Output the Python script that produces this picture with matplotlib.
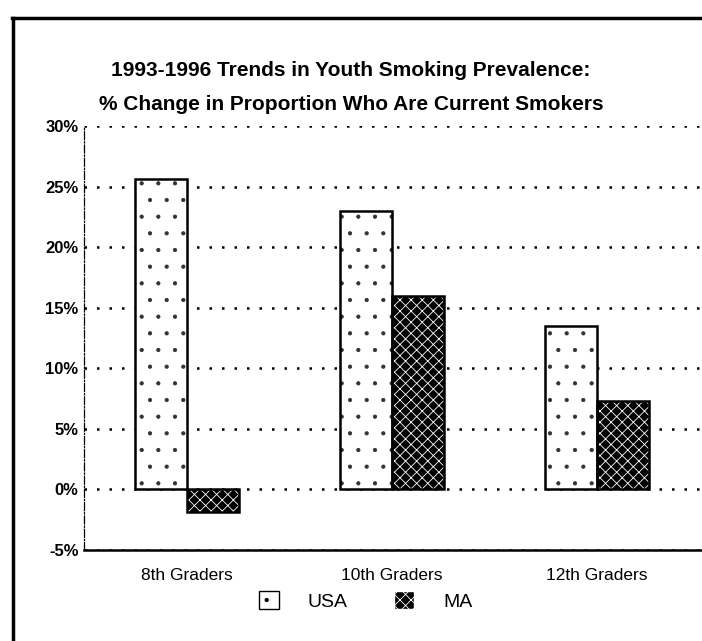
import matplotlib
matplotlib.use("Agg")
import matplotlib.pyplot as plt
from matplotlib.patches import Patch
from matplotlib.lines import Line2D
import numpy as np

plt.rcParams['font.family'] = ['Liberation Sans', 'DejaVu Sans']
plt.rcParams['hatch.linewidth'] = 0.6

grades = ["8th Graders", "10th Graders", "12th Graders"]
usa = [25.6, 23.0, 13.5]
ma = [-1.9, 16.0, 7.3]
yticks = [-5, 0, 5, 10, 15, 20, 25, 30]
ytick_labels = ["-5%", "0%", "5%", "10%", "15%", "20%", "25%", "30%"]
title_lines = ["1993-1996 Trends in Youth Smoking Prevalence:",
               "% Change in Proportion Who Are Current Smokers"]

fig = plt.figure(figsize=(7.02, 6.41), dpi=100)
ax = fig.add_axes([0.1197, 0.142, 0.88, 0.6614])

x = np.arange(len(grades))
w = 0.254

# USA: white with sparse dots, MA: black with fine white scratches
ax.bar(x - w / 2, usa, w, color="white", edgecolor="#333333", hatch=".", linewidth=0, zorder=2)
ax.bar(x - w / 2, usa, w, color="none", edgecolor="black", linewidth=1.8, zorder=3)
ax.bar(x + w / 2, ma, w, color="black", edgecolor="black", linewidth=0, zorder=2)
ax.bar(x + w / 2, ma, w, color="none", edgecolor="white", hatch="xxx", linewidth=0, zorder=2.5)
ax.bar(x + w / 2, ma, w, color="none", edgecolor="black", linewidth=1.8, zorder=3)

ax.set_xlim(-0.502, 2.51)
ax.set_ylim(-5, 30)
ax.set_yticks(yticks)
ax.set_yticklabels(ytick_labels, fontsize=12, fontweight="bold")
ax.set_xticks(x)
ax.set_xticklabels(grades, fontsize=12.5)
ax.tick_params(length=0, pad=4)
ax.tick_params(axis="x", pad=13)

ax.yaxis.grid(True, linestyle=(0, (1, 4)), linewidth=1.8, color="black")
ax.set_axisbelow(True)
for s in ["top", "right"]:
    ax.spines[s].set_visible(False)
ax.spines["left"].set_linestyle("-.")
ax.spines["left"].set_linewidth(0.9)
ax.spines["bottom"].set_linewidth(1.8)

fig.text(0.5, 0.89, title_lines[0], ha="center", va="center", fontsize=15, fontweight="bold")
fig.text(0.5, 0.837, title_lines[1], ha="center", va="center", fontsize=15, fontweight="bold")

handles = [Patch(facecolor="white", edgecolor="black", hatch=".", linewidth=1.0),
           Patch(facecolor="black", edgecolor="white", hatch="xxx", linewidth=1.0)]
fig.legend(handles, ["USA", "MA"], loc="center", bbox_to_anchor=(0.521, 0.0624), ncol=2,
           frameon=False, fontsize=14, handlelength=1.0, handleheight=1.0,
           columnspacing=2.4, handletextpad=1.5)

# page frame on the left and top
fig.add_artist(Line2D([0.019, 0.019], [0.0, 0.972], color="black", linewidth=2.5))
fig.add_artist(Line2D([0.017, 1.0], [0.972, 0.972], color="black", linewidth=2.5))

fig.savefig("out.png", dpi=100)
